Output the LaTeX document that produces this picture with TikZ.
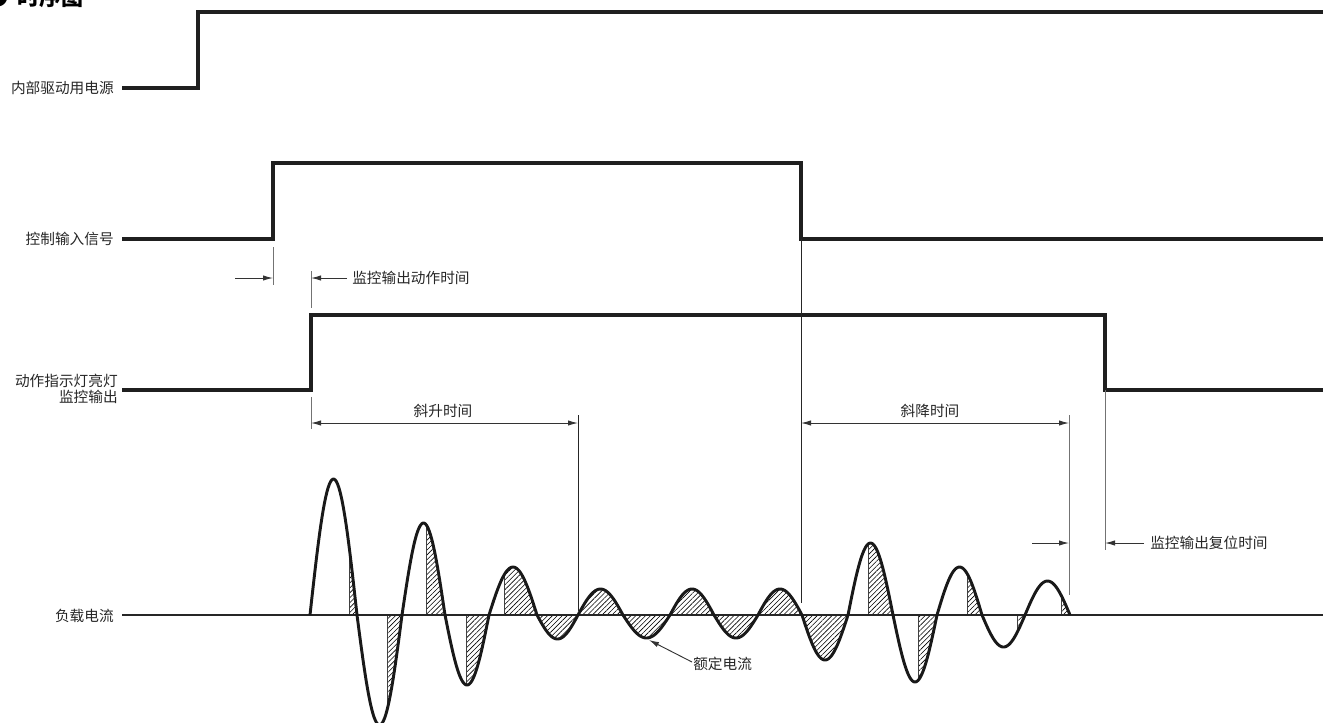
\documentclass[tikz,border=0pt]{standalone}
\usepackage{fontspec}
\setmainfont{Noto Sans CJK SC}
\usetikzlibrary{arrows.meta,patterns.meta}
\begin{document}
\begin{tikzpicture}[x=0.75pt,y=-0.75pt,
  sig/.style={line width=2.3pt, draw=black!88, line join=miter},
  wave/.style={line width=2.2pt, draw=black!90, line join=round},
  ext/.style={line width=0.7pt, draw=black!55},
  extd/.style={line width=0.7pt, draw=black!85},
  dimln/.style={line width=0.7pt, draw=black!80},
  tip/.style={-{Latex[length=7.5pt,width=4pt]}},
  tips/.style={{Latex[length=7.5pt,width=4pt]}-{Latex[length=7.5pt,width=4pt]}},
  lbl/.style={font=\fontsize{11}{12}\selectfont, inner sep=0pt, text=black!85},
  hatch/.style={pattern={Lines[angle=45,distance=2.6pt,line width=0.45pt]}},
  edge/.style={line width=0.6pt, draw=black!75}
]
\useasboundingbox (0,0) rectangle (1323,722);
\clip (0,0) rectangle (1323,722);

% title (clipped at top, as in the reference)
\node[anchor=base east, inner sep=0pt, font=\fontsize{16}{16}\selectfont\bfseries] (bul) at (9,5.5) {●};
\node[anchor=base west, inner sep=0pt, font=\fontsize{16.5}{16}\selectfont\bfseries] (title) at (17,5.5) {时序图};

% labels
\node[lbl, anchor=east] (l1) at (114,88) {内部驱动用电源};
\node[lbl, anchor=east] (l2) at (114,239) {控制输入信号};
\node[lbl, anchor=east, align=right] (l3) at (118,389) {动作指示灯亮灯\\监控输出};
\node[lbl, anchor=east] (l4) at (114,616) {负载电流};

% signals
\draw[sig] (122,88) -- (198,88) -- (198,12) -- (1326,12);
\draw[sig] (122,239) -- (273,239) -- (273,163) -- (801,163) -- (801,239) -- (1326,239);
\draw[sig] (122,390) -- (311,390) -- (311,315) -- (1105,315) -- (1105,390) -- (1326,390);

% hatching of load current
\foreach \a/\b/\A/\s in {310/357/136/349, 357/402/-110/387, 402/445/92/426, 445/489/-70/466, 489/537/48/504, 537/578/-24/537, 578/623/26/578, 623/670/-23/623, 670/714/26/670, 714/758/-23/714, 758/802/26/758, 802/848/-45/802, 848/893/72/868, 893/937/-67/918, 937/982/48/967, 982/1025/-32/1017, 1025/1070/34/1061}
{
  \fill[hatch] (\s,615) -- plot[domain=\s:\b, samples=30] (\x,{615-\A*sin(180*(\x-\a)/(\b-\a))}) -- cycle;
  \draw[edge] (\s,615) -- (\s,{615-\A*sin(180*(\s-\a)/(\b-\a))});
}

% baseline
\draw[line width=1.1pt, draw=black!85] (122,615) -- (1326,615);

% load current wave
\draw[wave] (310,615)
  \foreach \a/\b/\A in {310/357/136, 357/402/-110, 402/445/92, 445/489/-70, 489/537/48, 537/578/-24, 578/623/26, 623/670/-23, 670/714/26, 714/758/-23, 758/802/26, 802/848/-45, 848/893/72, 893/937/-67, 937/982/48, 982/1025/-32, 1025/1070/34}
  { -- plot[domain=\a:\b, samples=40] (\x,{615-\A*sin(180*(\x-\a)/(\b-\a))}) };

% monitor output operate time
\draw[ext] (273,247) -- (273,285);
\draw[ext] (311,271) -- (311,308);
\coordinate (oa1) at (235,278);
\coordinate (oa2) at (273,278);
\coordinate (ob2) at (311,278);
\node[lbl, anchor=west] (opt) at (352,278) {监控输出动作时间};
\coordinate (ob1) at (347,278);
\draw[dimln, tip] (oa1) -- (oa2);
\draw[dimln, tip] (ob1) -- (ob2);

% ramp up time
\draw[ext] (311,397) -- (311,429);
\draw[extd] (578,415) -- (578,611);
\coordinate (ru1) at (311,423);
\coordinate (ru2) at (578,423);
\draw[dimln, tips] (ru1) -- (ru2);
\node[lbl] (rut) at (443,411) {斜升时间};

% ramp down time
\draw[extd] (801,239) -- (801,603);
\draw[ext] (1069,415) -- (1069,595);
\coordinate (rd1) at (801,423);
\coordinate (rd2) at (1069,423);
\draw[dimln, tips] (rd1) -- (rd2);
\node[lbl] (rdt) at (930,411) {斜降时间};

% monitor output reset time
\draw[ext] (1105,390) -- (1105,550);
\coordinate (rs1) at (1032,543);
\coordinate (rs2) at (1069,543);
\coordinate (rs3) at (1144,543);
\coordinate (rs4) at (1105,543);
\draw[dimln, tip] (rs1) -- (rs2);
\draw[dimln, tip] (rs3) -- (rs4);
\node[lbl, anchor=west] (rst) at (1150,543) {监控输出复位时间};

% rated current
\node[lbl, anchor=west] (rated) at (693,664) {额定电流};
\coordinate (rc) at (649,640);
\draw[dimln, tip] (rated.west) ++(-1,-2) -- (rc);
\end{tikzpicture}
\end{document}
